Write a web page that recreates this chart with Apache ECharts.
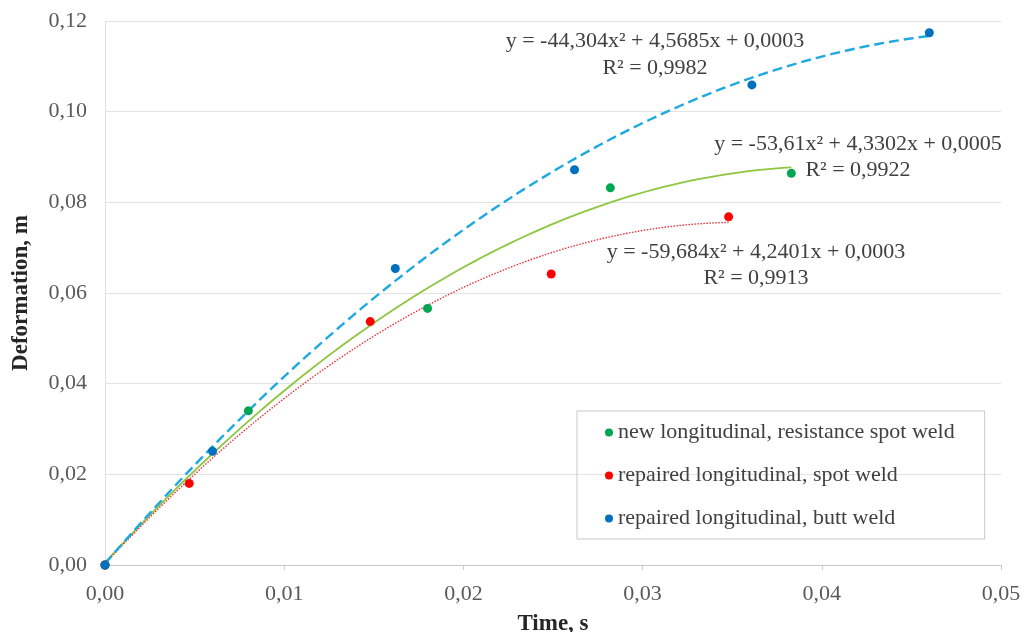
<!DOCTYPE html>
<html>
<head>
<meta charset="utf-8">
<script src="https://cdn.jsdelivr.net/npm/echarts@6/dist/echarts.min.js"></script>
<style>
  html, body { margin: 0; padding: 0; background: #ffffff; }
  #chart { width: 1032px; height: 632px; }
</style>
</head>
<body>
<div id="chart"></div>
<script>
// Measured deformation vs. time for three longitudinal members
const seriesNames = [
  'new longitudinal, resistance spot weld',
  'repaired longitudinal, spot weld',
  'repaired longitudinal, butt weld'
];
const newSpotTime   = [0, 0.008, 0.018, 0.0282, 0.0383];
const newSpotDef    = [0, 0.034, 0.0566, 0.0832, 0.0864];
const repSpotTime   = [0, 0.0047, 0.0148, 0.0249, 0.0348];
const repSpotDef    = [0, 0.018, 0.0537, 0.0642, 0.0768];
const repButtTime   = [0, 0.006, 0.0162, 0.0262, 0.0361, 0.046];
const repButtDef    = [0, 0.0251, 0.0654, 0.0872, 0.1059, 0.1174];

// Quadratic trend coefficients [a, b, c] for y = a*x^2 + b*x + c, and R^2
const newSpotFit  = [-53.61, 4.3302, 0.0005];
const repSpotFit  = [-59.684, 4.2401, 0.0003];
const repButtFit  = [-44.304, 4.5685, 0.0003];
const rSquared    = [0.9922, 0.9913, 0.9982];

const xTicks = [0, 0.01, 0.02, 0.03, 0.04, 0.05];
const yTicks = [0, 0.02, 0.04, 0.06, 0.08, 0.10, 0.12];

const comma = v => String(v).replace('.', ',');
const pairs = (xs, ys) => xs.map((x, i) => [x, ys[i]]);

// Sample the fitted polynomial over the measured time span
function trend(fit, xEnd) {
  const pts = [];
  const n = 80;
  for (let i = 0; i <= n; i++) {
    const x = xEnd * i / n;
    pts.push([x, fit[0] * x * x + fit[1] * x + fit[2]]);
  }
  return pts;
}
function equation(fit, r2) {
  return 'y = ' + comma(fit[0]) + 'x² + ' + comma(fit[1]) + 'x + ' + comma(fit[2]) +
         '\nR² = ' + comma(r2.toFixed(4));
}

const serif = '"Liberation Serif", "Times New Roman", serif';
const textColor = '#404040';
const tickFmt = v => v.toFixed(2).replace('.', ',');

const chart = echarts.init(document.getElementById('chart'));
chart.setOption({
  backgroundColor: '#ffffff',
  animation: false,
  grid: { left: 105, right: 31, top: 21, bottom: 67, containLabel: false, outerBoundsMode: 'none' },
  xAxis: {
    type: 'value', min: xTicks[0], max: xTicks[xTicks.length - 1], interval: 0.01,
    name: 'Time, s', nameLocation: 'middle', nameGap: 48,
    nameTextStyle: { fontFamily: serif, fontWeight: 'bold', fontSize: 23, color: '#262626' },
    axisLine: { show: true, lineStyle: { color: '#c8c8c8', width: 1 } },
    axisTick: { show: true, length: 5, lineStyle: { color: '#c8c8c8' } },
    axisLabel: { fontFamily: serif, fontSize: 22, color: '#595959', margin: 18, formatter: tickFmt },
    splitLine: { show: false }
  },
  yAxis: {
    type: 'value', min: yTicks[0], max: yTicks[yTicks.length - 1], interval: 0.02,
    name: 'Deformation, m', nameLocation: 'middle', nameGap: 72, nameRotate: 90,
    nameTextStyle: { fontFamily: serif, fontWeight: 'bold', fontSize: 23, color: '#262626' },
    axisLine: { show: true, lineStyle: { color: '#e0e0e0', width: 1 } },
    axisTick: { show: false },
    axisLabel: { fontFamily: serif, fontSize: 22, color: '#595959', margin: 18, formatter: tickFmt },
    splitLine: { show: true, lineStyle: { color: '#e3e3e3', width: 1 } }
  },
  legend: {
    data: seriesNames,
    orient: 'vertical',
    left: 577, top: 411,
    padding: [10, 30, 9, 28],
    itemGap: 20,
    itemWidth: 8, itemHeight: 8,
    icon: 'circle',
    borderColor: '#c8c8c8', borderWidth: 1,
    textStyle: { fontFamily: serif, fontSize: 22, color: textColor, lineHeight: 23 }
  },
  series: [
    { name: 'fit-new', type: 'line', data: trend(newSpotFit, newSpotTime[newSpotTime.length - 1]),
      showSymbol: false, symbol: 'none', z: 2,
      lineStyle: { color: '#8dc63f', width: 1.8, type: 'solid' } },
    { name: 'fit-spot', type: 'line', data: trend(repSpotFit, repSpotTime[repSpotTime.length - 1]),
      showSymbol: false, symbol: 'none', z: 2,
      lineStyle: { color: '#e8323c', width: 1.4, type: [1.5, 1.5] } },
    { name: 'fit-butt', type: 'line', data: trend(repButtFit, repButtTime[repButtTime.length - 1]),
      showSymbol: false, symbol: 'none', z: 2,
      lineStyle: { color: '#1fa9e1', width: 2.4, type: [10, 5] } },
    { name: seriesNames[0], type: 'scatter', data: pairs(newSpotTime, newSpotDef), z: 5,
      symbolSize: 9, itemStyle: { color: '#00a651', opacity: 1 } },
    { name: seriesNames[1], type: 'scatter', data: pairs(repSpotTime, repSpotDef), z: 5,
      symbolSize: 9, itemStyle: { color: '#ff0000', opacity: 1 } },
    { name: seriesNames[2], type: 'scatter', data: pairs(repButtTime, repButtDef), z: 6,
      symbolSize: 9, itemStyle: { color: '#0070c0', opacity: 1 } }
  ],
  graphic: [
    { type: 'text', x: 655, y: 55, style: { text: equation(repButtFit, rSquared[2]),
      fontFamily: serif, fontSize: 22, lineHeight: 27, fill: textColor,
      align: 'center', verticalAlign: 'middle' } },
    { type: 'text', x: 858, y: 157, style: { text: equation(newSpotFit, rSquared[0]),
      fontFamily: serif, fontSize: 22, lineHeight: 26, fill: textColor,
      align: 'center', verticalAlign: 'middle' } },
    { type: 'text', x: 756, y: 265, style: { text: equation(repSpotFit, rSquared[1]),
      fontFamily: serif, fontSize: 22, lineHeight: 26, fill: textColor,
      align: 'center', verticalAlign: 'middle' } }
  ]
});
</script>
</body>
</html>
